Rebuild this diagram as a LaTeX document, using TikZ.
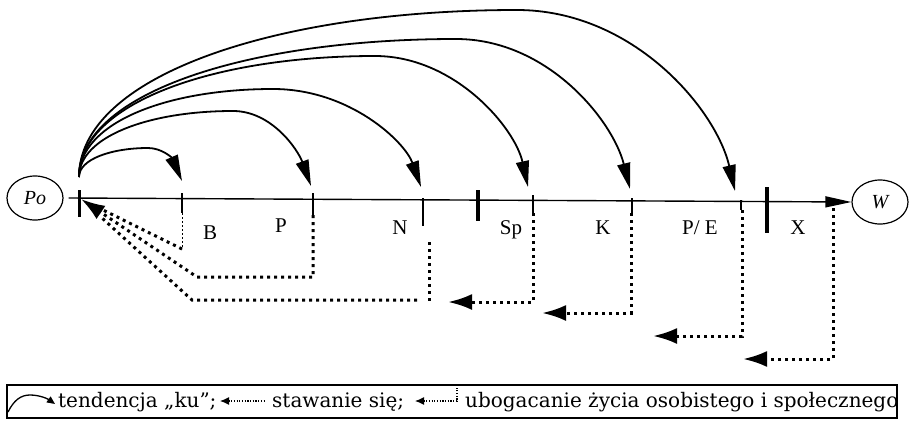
\documentclass[tikz,border=0pt]{standalone}
\usepackage{fontspec}
\setmainfont{Liberation Serif}
\newfontfamily\legfont{DejaVu Serif}
\usetikzlibrary{arrows.meta,shapes.geometric}
\begin{document}
\begin{tikzpicture}[x=1pt,y=-1pt,
  tendarc/.style={line width=1.8pt,-{Triangle[length=26pt,width=13pt]}},
  dotline/.style={line width=3pt,dash pattern=on 3pt off 4pt},
  dotarrow/.style={dotline,-{Latex[length=24pt,width=16pt]}},
  tickline/.style={line width=2pt},
  barline/.style={line width=4pt},
  lab/.style={font=\fontsize{21}{23}\selectfont, anchor=base, inner sep=0pt},
  ell/.style={ellipse, draw, line width=1.2pt, minimum width=56pt, minimum height=44pt, inner sep=0pt, font=\fontsize{20}{22}\selectfont\itshape},
  legtext/.style={font=\legfont\fontsize{20}{22}\selectfont, anchor=base west, inner sep=0pt},
  legdots/.style={line width=1.2pt, dash pattern=on 1.2pt off 1.5pt}
]
\useasboundingbox (0,0) rectangle (909,428);

% end nodes
\node[ell] (po) at (35,198) {Po};
\node[ell] (w) at (880,202) {W};

% main line
\draw[line width=1.4pt, -{Triangle[length=26pt,width=11pt]}] ([xshift=5pt]po.east) -- (w.west);

% ticks and bars
\draw[line width=3pt] (79,190) -- (79,217);
\draw[tickline] (182,193) -- (182,213);
\draw[tickline] (313,193) -- (313,215);
\draw[line width=2.5pt] (423,198) -- (423,226);
\draw[barline] (478,190) -- (478,221);
\draw[tickline] (533,195) -- (533,213);
\draw[tickline] (632,198) -- (632,213);
\draw[line width=2.5pt] (741,200) -- (741,210);
\draw[line width=3.5pt] (767,187) -- (767,233);

% labels
\node[lab] (lB) at (210,239) {B};
\node[lab] (lP) at (281,232) {P};
\node[lab] (lN) at (400,234) {N};
\node[lab] (lSp) at (511,234) {Sp};
\node[lab] (lK) at (603,234) {K};
\node[lab] (lPE) at (700,234) {P/ E};
\node[lab] (lX) at (798,234) {X};

% arcs "ku"
\coordinate (s) at (79,177);
\coordinate (eB) at (182,181);
\coordinate (eP) at (311,186);
\coordinate (eN) at (421,187);
\coordinate (eSp) at (528,187);
\coordinate (eK) at (630,189);
\coordinate (ePE) at (735,191);
\draw[tendarc] (s) .. controls (79,159) and (112,148) .. (148,148) .. controls (162,148) and (172,158) .. (eB);
\draw[tendarc] (s) .. controls (79,137) and (148,111) .. (233,111) .. controls (272,111) and (298,150) .. (eP);
\draw[tendarc] (s) .. controls (79,123) and (166,89) .. (273,89) .. controls (350,89) and (405,142) .. (eN);
\draw[tendarc] (s) .. controls (79,104) and (212,56) .. (375,56) .. controls (455,56) and (515,128) .. (eSp);
\draw[tendarc] (s) .. controls (79,93) and (248,39) .. (456,39) .. controls (548,39) and (613,121) .. (eK);
\draw[tendarc] (s) .. controls (79,76) and (276,10) .. (517,10) .. controls (633,10) and (716,109) .. (ePE);

% dotted returns
\coordinate (poT) at (81,199);
\draw[line width=1pt, dash pattern=on 2pt off 2pt] (182,213) -- (182,249);
\draw[dotline] (182,249) -- (99,208);
\draw[dotarrow] (313,215) -- (313,277) -- (197,277) -- (poT);
\draw[dotline] (417,300) -- (192,300) -- (102,218);
\draw[dotline] (429,242) -- (429,303);
\draw[dotarrow] (533,213) -- (533,302) -- (448,302);
\draw[dotarrow] (631,213) -- (631,313) -- (542,313);
\draw[dotarrow] (742,210) -- (742,336) -- (653,336);
\draw[dotarrow] (833,208) -- (833,359) -- (743,359);

% legend
\draw[line width=1.2pt] (7,385) rectangle (897,418);
\draw[line width=1.3pt,-{Triangle[length=8pt,width=7pt]}] (8,412) .. controls (14,400) and (21,395) .. (30,395) .. controls (40,395) and (48,399) .. (55,404);
\node[legtext] (t1) at (58,407) {tendencja „ku”;};
\draw[legdots, {Latex[length=9pt,width=8pt]}-] (220,401) -- (265,401);
\node[legtext] (t2) at (272,407) {stawanie się;};
\draw[legdots, {Latex[length=9pt,width=8pt]}-] (415,401) -- (457,401) -- (457,386);
\node[legtext] (t3) at (465,407) {ubogacanie życia osobistego i społecznego};
\end{tikzpicture}
\end{document}
